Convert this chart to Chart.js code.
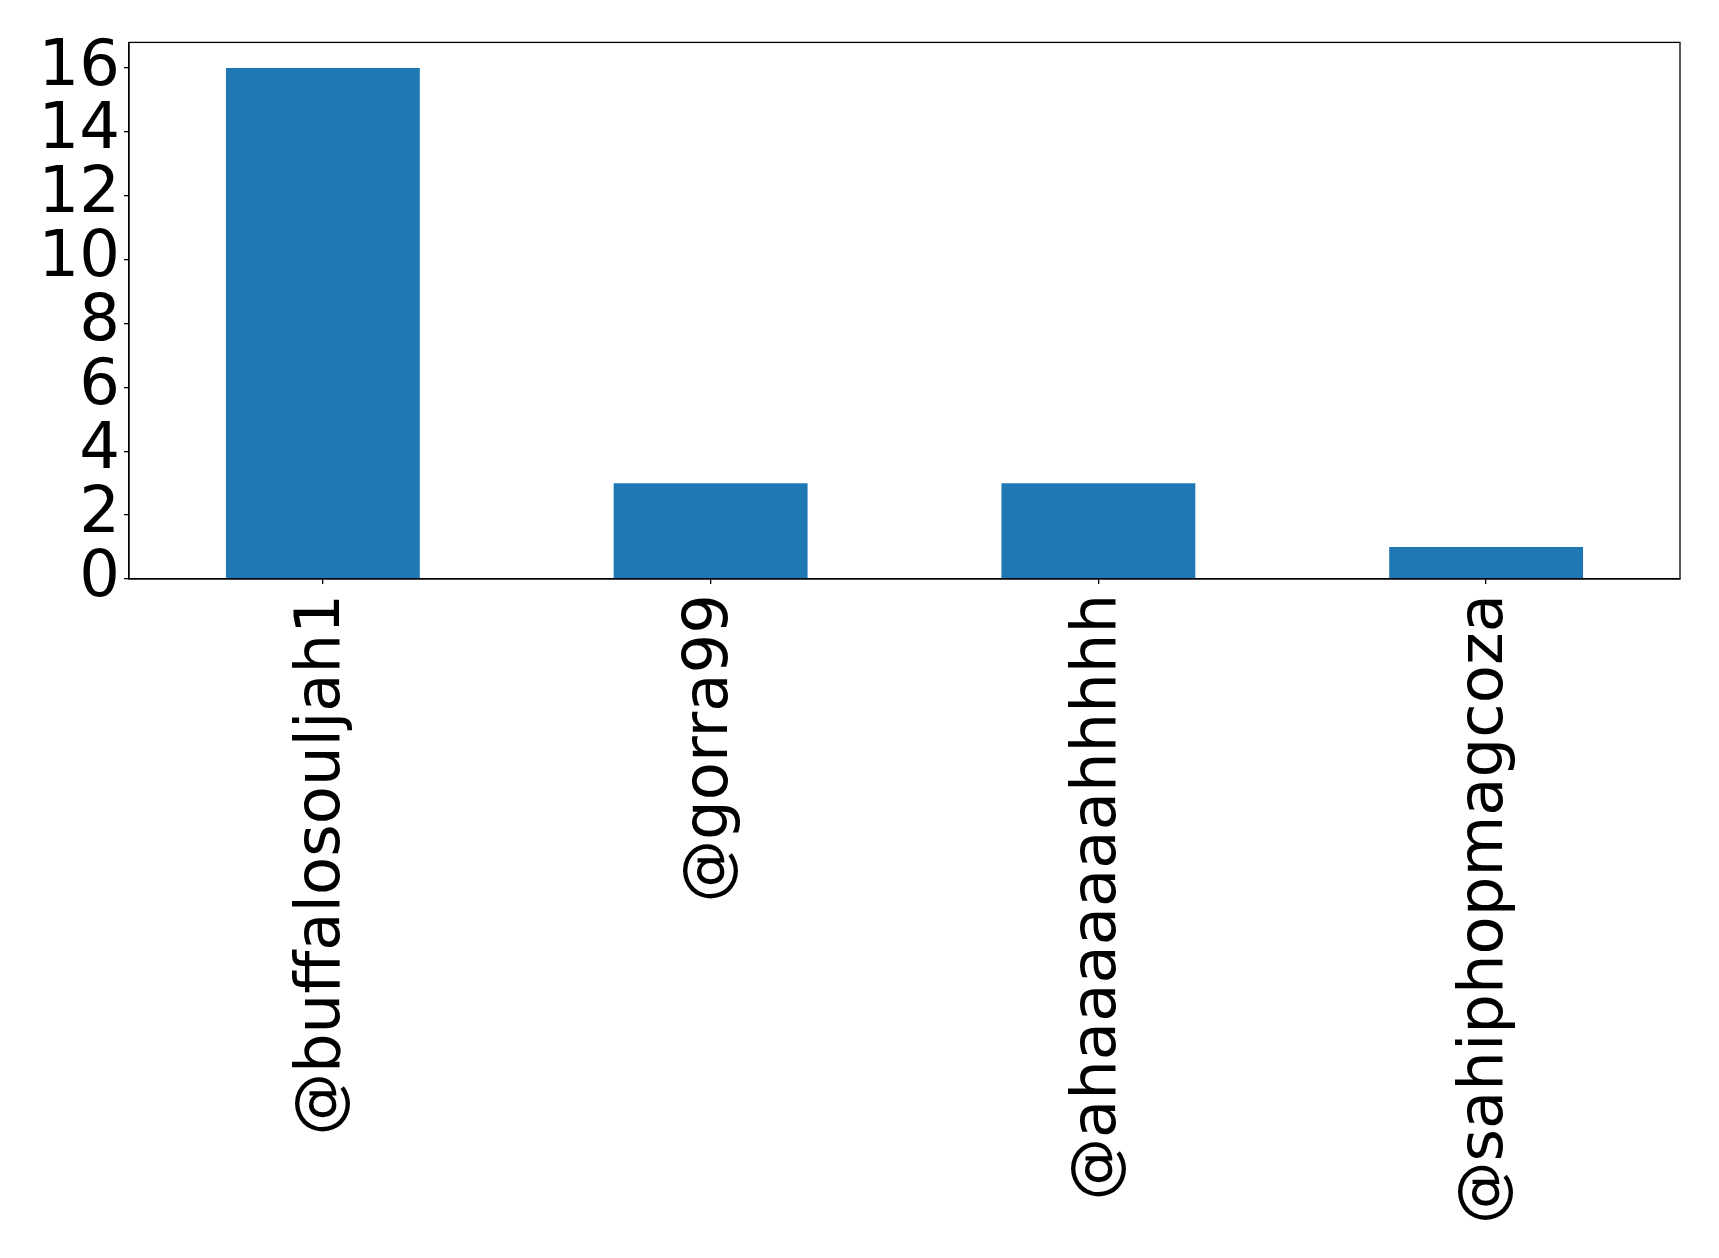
<!DOCTYPE html>
<html>
<head>
<meta charset="utf-8">
<script src="https://cdn.jsdelivr.net/npm/chart.js@4/dist/chart.umd.min.js"></script>
<style>
  html, body { margin: 0; padding: 0; background: #ffffff; }
  #wrap { width: 1719px; height: 1258px; }
</style>
</head>
<body>
<div id="wrap"><canvas id="chart" width="1719" height="1258"></canvas></div>
<script>
// usuarios e contagens
const users = ['@buffalosouljah1', '@gorra99', '@ahaaaaaaahhhhh', '@sahiphopmagcoza'];
const counts = [16, 3, 3, 1];
const yTicks = [0, 2, 4, 6, 8, 10, 12, 14, 16];

const FONT = 'DejaVu Sans';

// moldura em volta da area do grafico (estilo matplotlib)
const frame = {
    id: 'frame',
    afterDraw(chart) {
        const a = chart.chartArea;
        const ctx = chart.ctx;
        ctx.save();
        ctx.strokeStyle = '#000';
        ctx.lineWidth = 1.3;
        ctx.strokeRect(a.left, a.top, a.right - a.left, a.bottom - a.top);
        ctx.restore();
    }
};

new Chart(document.getElementById('chart'), {
    type: 'bar',
    data: {
        labels: users,
        datasets: [{
            data: counts,
            backgroundColor: '#1f77b4',
            borderWidth: 0,
            barPercentage: 0.5,
            categoryPercentage: 1.0
        }]
    },
    options: {
        responsive: false,
        animation: false,
        layout: { padding: { top: 40, right: 39, left: 0, bottom: 0 } },
        plugins: { legend: { display: false }, tooltip: { enabled: false } },
        scales: {
            x: {
                grid: { display: true, offset: false, drawOnChartArea: false, drawTicks: true, tickLength: 5, color: '#000', lineWidth: 1.3 },
                border: { display: true, color: '#000', width: 1.3 },
                ticks: {
                    minRotation: 90, maxRotation: 90, autoSkip: false, padding: 10,
                    color: '#000', font: { family: FONT, size: 62.5 }
                },
                afterFit(scale) { scale.height = 1258 - 579; }
            },
            y: {
                min: 0, max: 16.8,
                afterBuildTicks(scale) { scale.ticks = yTicks.map(v => ({ value: v })); },
                grid: { display: true, drawOnChartArea: false, drawTicks: true, tickLength: 5, color: '#000', lineWidth: 1.3 },
                border: { display: true, color: '#000', width: 1.3 },
                ticks: { autoSkip: false, padding: 4, color: '#000', font: { family: FONT, size: 64 } },
                afterFit(scale) { scale.width = 129; }
            }
        }
    },
    plugins: [frame]
});
</script>
</body>
</html>
